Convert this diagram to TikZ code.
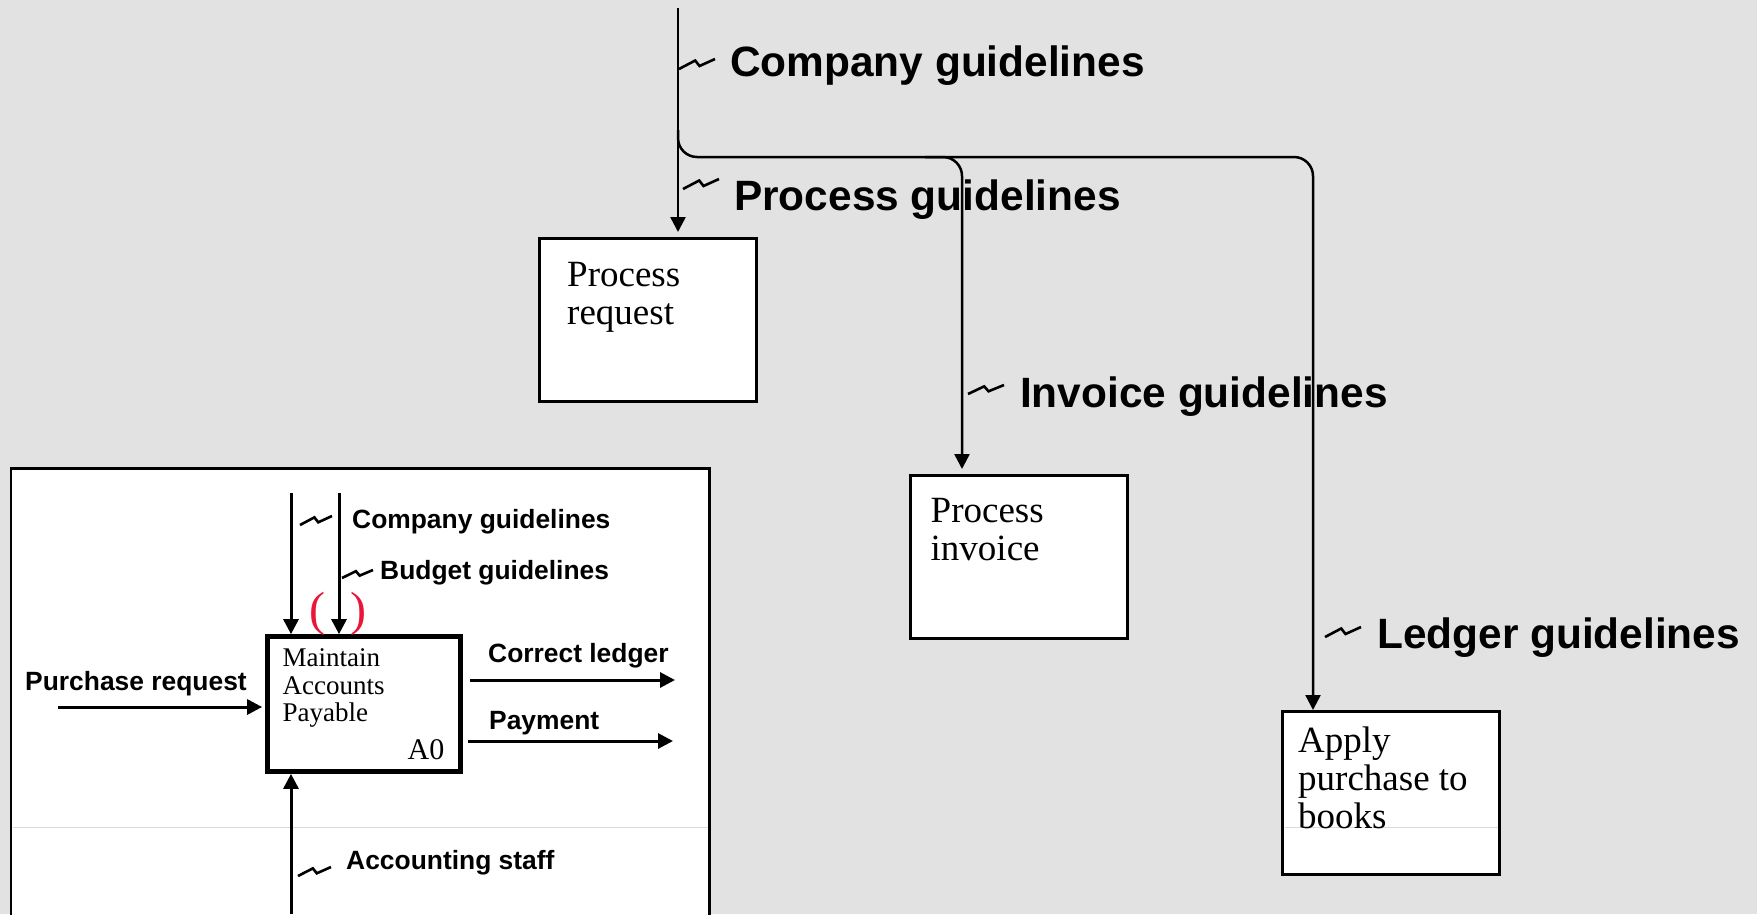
\documentclass[tikz,border=0pt]{standalone}
\usepackage{fontspec}
\setmainfont{Liberation Serif}
\newfontfamily\labelfont{Liberation Sans}
\usetikzlibrary{arrows.meta}

\definecolor{pagebg}{RGB}{226,226,226}
\definecolor{parred}{RGB}{234,22,58}
\definecolor{faintrule}{RGB}{218,218,218}

\newcommand\lblbig{\fontsize{42.4}{50}\selectfont\labelfont\bfseries}
\newcommand\lblsmall{\fontsize{26.4}{31}\selectfont\labelfont\bfseries}
% IDEF0 squiggle: start point, width, height
\newcommand\squig[3]{\draw[squigline] (#1) -- ++({0.45*#2},{-0.85*#3}) -- ++({0.12*#2},{0.55*#3}) -- ++({0.43*#2},{-0.7*#3});}

\begin{document}
\begin{tikzpicture}[x=1pt, y=-1pt,
  wire/.style={line width=2.5pt},
  lwire/.style={line width=3pt},
  arr/.style={-{Triangle[length=15pt,width=15pt]}},
  squigline/.style={line width=2.6pt},
  faint/.style={draw=faintrule, line width=1pt},
  procbox/.style={draw, line width=3pt, fill=white, minimum width=217pt, minimum height=163pt, inner sep=0pt},
  boxtxt/.style={anchor=north west, inner sep=0pt, align=left, font=\fontsize{37}{38}\selectfont},
  biglbl/.style={anchor=base west, inner sep=0pt, font=\lblbig},
  smalllbl/.style={anchor=base west, inner sep=0pt, font=\lblsmall},
]
\useasboundingbox (0,0) rectangle (1757,914);
\clip (0,0) rectangle (1757,914);
\fill[pagebg] (0,0) rectangle (1757,914);

% ---------- context panel (A0) ----------
\draw[line width=2.5pt, fill=white] (11,468.5) rectangle (709.5,940);
\draw[faint] (12.5,827) -- (708,827);

\node[draw, line width=4.7pt, fill=white, minimum width=193pt, minimum height=135pt, inner sep=0pt] (A0) at (364,704) {};
\node[anchor=north west, inner sep=0pt, align=left, font=\fontsize{27}{27.5}\selectfont] (A0t) at (282.5,648.6) {Maintain\\Accounts\\Payable};
\node[anchor=base east, inner sep=0pt, font=\fontsize{30}{30}\selectfont] (A0n) at (444.5,759.5) {A0};

\coordinate (ctl1) at (291,493);
\coordinate (ctl2) at (339,493);
\coordinate (inp) at (58,707);
\coordinate (out1) at (675,680);
\coordinate (out2) at (673,741);
\coordinate (mech) at (291,914);

\draw[lwire,arr] (ctl1) -- (ctl1 |- A0.north);
\draw[lwire,arr] (ctl2) -- (ctl2 |- A0.north);
\draw[lwire,arr,shorten >=3pt] (inp) -- (inp -| A0.west);
\draw[lwire,arr,shorten <=7pt] (A0.east |- out1) -- (out1);
\draw[lwire,arr,shorten <=5pt] (A0.east |- out2) -- (out2);
\draw[lwire,arr] (mech) -- (mech |- A0.south);

\node[anchor=base west, inner sep=0pt, text=parred, font=\fontsize{48}{48}\selectfont] (par) at (309,625) {(\hspace{25pt})};

\node[smalllbl] (sCG) at (352,528) {Company guidelines};
\node[smalllbl] (sBG) at (380,579) {Budget guidelines};
\node[smalllbl] (sPR) at (25,690) {Purchase request};
\node[smalllbl] (sCL) at (488,662) {Correct ledger};
\node[smalllbl] (sPY) at (489,729) {Payment};
\node[smalllbl] (sAS) at (346,869) {Accounting staff};

\squig{300,525}{32}{9}
\squig{342,578}{31}{8}
\squig{298,876}{33}{9}

% ---------- decomposition ----------
\node[procbox] (PR) at (648,320) {};
\node[procbox] (PI) at (1019,557) {};
\node[procbox] (AP) at (1391,793) {};
\draw[faint] (1284.5,827) -- (1497.5,827);

\node[boxtxt] (PRt) at (567,262) {Process\\request};
\node[boxtxt] (PIt) at (930.5,498) {Process\\invoice};
\node[boxtxt] (APt) at (1298,727) {Apply\\purchase to\\books};

\node[biglbl] (lCG) at (730,76) {Company guidelines};
\node[biglbl] (lPG) at (734,210) {Process guidelines};
\node[biglbl] (lIG) at (1020,407) {Invoice guidelines};
\node[biglbl] (lLG) at (1377,648) {Ledger guidelines};

\coordinate (src) at (678,8);
\coordinate (fork) at (678,130);
\coordinate (busR) at (1313,157);
\coordinate (busM0) at (925,157);
\coordinate (busM) at (962,157);

\draw[wire,arr,shorten >=5pt] (src) -- (src |- PR.north);
\draw[wire,arr,rounded corners=19pt] (fork) -- (fork |- busR) -- (busR) -- (busR |- AP.north);
\draw[wire,arr,rounded corners=19pt,shorten >=5pt] (busM0) -- (busM) -- (busM |- PI.north);

\squig{679,69}{36}{10}
\squig{683,189}{36}{10}
\squig{968,394}{36}{9}
\squig{1325,637}{36}{10}
\end{tikzpicture}
\end{document}
